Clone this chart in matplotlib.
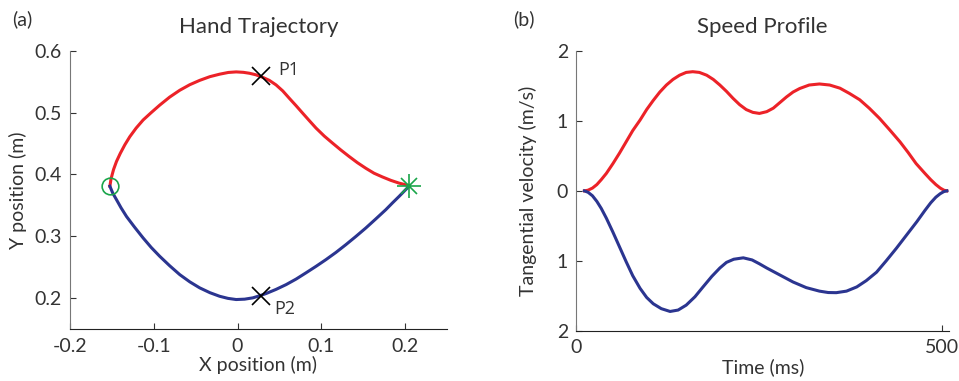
import numpy as np
import matplotlib.pyplot as plt

# ----- DATA -----
# hand trajectory (m)
red_x = [-0.1524, -0.151, -0.148, -0.1445, -0.140, -0.1345, -0.1286, -0.121, -0.1127, -0.103,
         -0.0929, -0.081, -0.069, -0.057, -0.0452, -0.033, -0.0214, -0.011, -0.0016, 0.007,
         0.0143, 0.022, 0.030, 0.038, 0.046, 0.054, 0.0619, 0.070, 0.0778, 0.0857, 0.0937,
         0.1036, 0.1135, 0.1234, 0.1333, 0.1432, 0.1532, 0.163, 0.173, 0.183, 0.1929, 0.2048]
red_y = [0.381, 0.393, 0.408, 0.421, 0.434, 0.448, 0.461, 0.475, 0.488, 0.500,
         0.512, 0.525, 0.536, 0.545, 0.552, 0.558, 0.562, 0.5648, 0.5657, 0.565,
         0.5635, 0.561, 0.557, 0.552, 0.5447, 0.535, 0.523, 0.511, 0.499, 0.487, 0.475,
         0.462, 0.4506, 0.4395, 0.429, 0.419, 0.410, 0.402, 0.396, 0.3905, 0.386, 0.382]
blue_x = [-0.1524, -0.149, -0.1444, -0.139, -0.1325, -0.123, -0.1127, -0.103, -0.0929, -0.081,
          -0.069, -0.057, -0.0452, -0.033, -0.0214, -0.0115, -0.0016, 0.0085, 0.0182, 0.026,
          0.0341, 0.046, 0.058, 0.070, 0.0817, 0.0937, 0.1056, 0.1175, 0.1294, 0.1413,
          0.1532, 0.165, 0.177, 0.185, 0.1929, 0.199, 0.2048]
blue_y = [0.381, 0.370, 0.359, 0.346, 0.332, 0.315, 0.2974, 0.282, 0.2678, 0.2525,
          0.2382, 0.2265, 0.2168, 0.209, 0.2032, 0.1998, 0.1979, 0.1985, 0.2006, 0.2038,
          0.2076, 0.2143, 0.222, 0.231, 0.241, 0.2515, 0.2624, 0.274, 0.2866, 0.2998,
          0.3135, 0.328, 0.343, 0.354, 0.3645, 0.373, 0.381]
start_pt = (-0.1524, 0.381)
end_pt = (0.2048, 0.381)
p1 = (0.028, 0.559)
p2 = (0.028, 0.203)

# speed profile (m/s), blue drawn mirrored below zero
t_red = [11, 16, 22, 28, 34, 41, 50, 59, 68, 77, 87, 96, 105, 114, 123, 132, 141, 150, 159,
         168, 178, 187, 196, 205, 214, 223, 232, 241, 250, 260, 269, 278, 287, 296, 305, 318,
         332, 346, 360, 373, 387, 400, 414, 428, 442, 453, 464, 476, 484, 491, 497, 502, 506]
v_red = [0.0, 0.01, 0.04, 0.09, 0.16, 0.25, 0.39, 0.54, 0.70, 0.86, 1.01, 1.16, 1.29, 1.41,
         1.51, 1.59, 1.65, 1.69, 1.70, 1.69, 1.65, 1.59, 1.51, 1.42, 1.32, 1.23, 1.16, 1.12,
         1.105, 1.13, 1.18, 1.26, 1.34, 1.41, 1.46, 1.51, 1.525, 1.51, 1.465, 1.39, 1.30,
         1.18, 1.035, 0.87, 0.70, 0.55, 0.39, 0.25, 0.16, 0.09, 0.04, 0.01, 0.0]
t_blue = [11, 16, 22, 28, 34, 41, 50, 59, 68, 77, 87, 96, 105, 116, 128, 139, 150, 162, 173,
          185, 196, 205, 215, 228, 240, 250, 260, 278, 296, 314, 332, 344, 355, 369, 383,
          396, 410, 423, 437, 451, 465, 476, 484, 491, 497, 502, 506]
v_blue = [0.0, -0.02, -0.07, -0.15, -0.25, -0.39, -0.59, -0.80, -1.01, -1.21, -1.39, -1.52,
          -1.61, -1.68, -1.72, -1.70, -1.63, -1.51, -1.37, -1.22, -1.10, -1.02, -0.975,
          -0.955, -0.985, -1.04, -1.10, -1.20, -1.30, -1.38, -1.43, -1.45, -1.452, -1.43,
          -1.37, -1.28, -1.16, -1.00, -0.82, -0.63, -0.44, -0.28, -0.17, -0.09, -0.04,
          -0.01, 0.0]
# -----------------

RED = '#ec2228'
BLUE = '#2b3590'
GREEN = '#1aa54a'
TXT = '#333333'

plt.rcParams['font.family'] = ['Lato', 'DejaVu Sans']
plt.rcParams['xtick.direction'] = 'in'
plt.rcParams['ytick.direction'] = 'in'

fig = plt.figure(figsize=(9.59, 3.81), dpi=100)
ax1 = fig.add_axes([0.073, 0.136, 0.393, 0.731])
ax2 = fig.add_axes([0.601, 0.131, 0.3886, 0.736])

for ax in (ax1, ax2):
    ax.spines['top'].set_visible(False)
    ax.spines['right'].set_visible(False)
    ax.spines['left'].set_color('#777777')
    ax.spines['bottom'].set_color('#222222')
    ax.tick_params(labelsize=14, colors=TXT, length=4, width=0.8, pad=6)

# (a) hand trajectory
ax1.plot(red_x, red_y, color=RED, lw=2.2, solid_joinstyle='round')
ax1.plot(blue_x, blue_y, color=BLUE, lw=2.2, solid_joinstyle='round')
ax1.plot(*start_pt, 'o', mfc='none', mec=GREEN, ms=12, mew=1.2)
ax1.plot(*end_pt, '+', color=GREEN, ms=17, mew=1.2)
ax1.plot(*end_pt, 'x', color=GREEN, ms=12, mew=1.2)
ax1.plot(*p1, 'x', color='black', ms=13, mew=1.2)
ax1.plot(*p2, 'x', color='black', ms=13, mew=1.2)
ax1.text(p1[0] + 0.021, p1[1] + 0.01, 'P1', fontsize=13, color=TXT, va='center',
         family=['Open Sans', 'DejaVu Sans'])
ax1.text(p2[0] + 0.016, p2[1] - 0.02, 'P2', fontsize=13, color=TXT, va='center',
         family=['Open Sans', 'DejaVu Sans'])
ax1.set_xlim(-0.2, 0.25)
ax1.set_ylim(0.15, 0.6)
ax1.set_xticks([-0.2, -0.1, 0, 0.1, 0.2])
ax1.set_xticklabels(['-0.2', '-0.1', '0', '0.1', '0.2'])
ax1.set_yticks([0.2, 0.3, 0.4, 0.5, 0.6])
ax1.set_xlabel('X position (m)', fontsize=14, color=TXT, labelpad=1)
ax1.set_ylabel('Y position (m)', fontsize=14, color=TXT, labelpad=5)
ax1.set_title('Hand Trajectory', fontsize=16, color=TXT, pad=13)
fig.text(0.013, 0.935, '(a)', fontsize=14, color=TXT)

# (b) speed profile
ax2.plot(t_red, v_red, color=RED, lw=2.2, solid_joinstyle='round')
ax2.plot(t_blue, v_blue, color=BLUE, lw=2.2, solid_joinstyle='round')
ax2.set_xlim(0, 509)
ax2.set_ylim(-2, 2)
ax2.set_xticks([0, 500])
ax2.set_yticks([-2, -1, 0, 1, 2])
ax2.set_yticklabels(['2', '1', '0', '1', '2'])
ax2.set_xlabel('Time (ms)', fontsize=14, color=TXT, labelpad=1)
ax2.set_ylabel('Tangential velocity (m/s)', fontsize=14, color=TXT, labelpad=14)
ax2.set_title('Speed Profile', fontsize=16, color=TXT, pad=13)
fig.text(0.535, 0.935, '(b)', fontsize=14, color=TXT)

fig.savefig('out.png', dpi=100)
